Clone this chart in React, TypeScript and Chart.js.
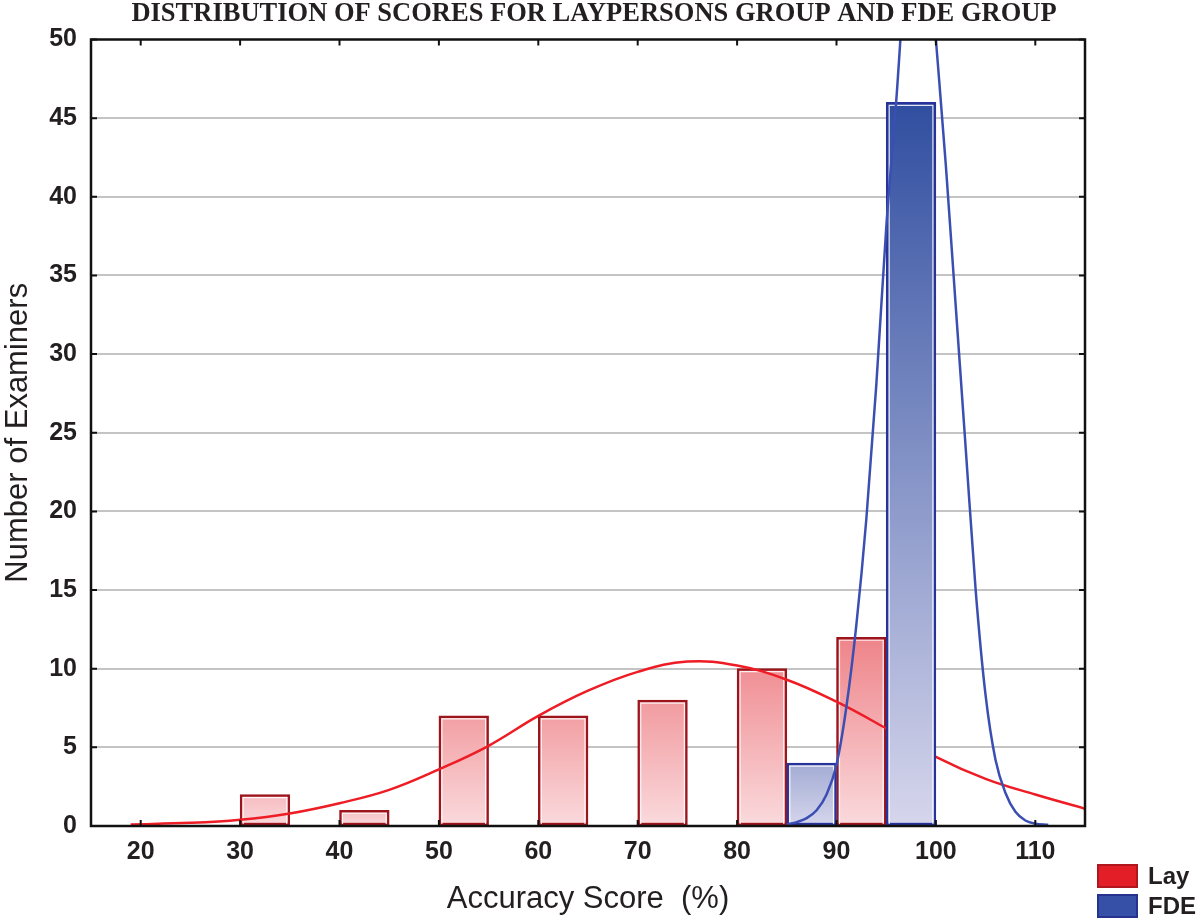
import React, { useEffect, useRef } from "react";
import { Chart, Plugin, registerables } from "chart.js";

Chart.register(...registerables);

// ---- data ----
const chartTitle = "DISTRIBUTION OF SCORES FOR LAYPERSONS GROUP AND FDE GROUP";
const xAxisTitle = "Accuracy Score  (%)";
const yAxisTitle = "Number of Examiners";
const seriesNames = ["Lay", "FDE"];

const binWidth = 5;
const layBinStarts = [30, 40, 50, 60, 70, 80, 90];
const layCounts = [2, 1, 7, 7, 8, 10, 12];
const fdeBinStarts = [85, 95];
const fdeCounts = [4, 46];

// fitted normal curves
const layCurveX = [19, 25, 30, 35, 40, 45, 50, 55, 60, 65, 70, 75, 80, 85, 90, 95, 100, 105, 110, 115];
const layCurveY = [0.1, 0.2, 0.4, 0.8, 1.45, 2.3, 3.6, 5.1, 7.0, 8.6, 9.8, 10.45, 10.2, 9.3, 7.9, 6.2, 4.4, 3.0, 2.0, 1.1];

const fdeCurveX = [85, 86, 87, 88, 89, 90, 91, 92, 93, 94, 95, 96, 97, 98, 99, 100, 101, 102, 103, 104, 105, 106, 107, 108, 109, 110, 111.3];
const fdeCurveY = [0.1, 0.25, 0.5, 1.0, 2.0, 3.9, 7.6, 12.8, 19.5, 28, 38, 46, 55, 60, 58, 50, 42, 33, 24, 15, 8.3, 4.2, 2.1, 0.9, 0.35, 0.15, 0.08];

const xTickValues = [20, 30, 40, 50, 60, 70, 80, 90, 100, 110];

// ---- styling ----
const ink = "#231f20";
const sans = "'Liberation Sans', Arial, sans-serif";
const layLight = [250, 218, 221];
const layDark = [238, 132, 137];
const fdeLight = [214, 214, 236];
const fdeDark = [48, 78, 160];

function mix(a: number[], b: number[], t: number) {
  return `rgb(${a.map((v, i) => Math.round(v + (b[i] - v) * t)).join(",")})`;
}

function barFill(light: number[], dark: number[], maxVal: number) {
  return (ctx: any) => {
    const chart = ctx.chart;
    const y = chart.scales && chart.scales.y;
    const raw = ctx.raw;
    if (!chart.chartArea || !y || !raw) return mix(light, dark, 0.5);
    const top = y.getPixelForValue(raw.y);
    const base = y.getPixelForValue(0);
    const g = chart.ctx.createLinearGradient(0, top, 0, base);
    g.addColorStop(0, mix(light, dark, 0.25 + (0.75 * raw.y) / maxVal));
    g.addColorStop(1, mix(light, dark, 0));
    return g;
  };
}

// thin white inner outline on every bar
const barHighlight: Plugin = {
  id: "barHighlight",
  afterDatasetDraw(chart, args: any) {
    const meta = args.meta;
    if (meta.type !== "bar") return;
    const c = chart.ctx;
    c.save();
    c.strokeStyle = "rgba(255,255,255,0.85)";
    c.lineWidth = 1.2;
    meta.data.forEach((el: any) => {
      const { x, y, base, width } = el.getProps(["x", "y", "base", "width"], true);
      const l = x - width / 2 + 3;
      const r = x + width / 2 - 3;
      const t = y + 3;
      const b = base - 1;
      if (b - t < 2) return;
      c.beginPath();
      c.moveTo(l, b);
      c.lineTo(l, t);
      c.lineTo(r, t);
      c.lineTo(r, b);
      c.stroke();
    });
    c.restore();
  },
};

// black box round the plot with inward tick marks on all four sides
const frame: Plugin = {
  id: "frame",
  afterDatasetsDraw(chart) {
    const { ctx: c, chartArea: a } = chart;
    const xs: any = chart.scales.x;
    const ys: any = chart.scales.y;
    const tl = 6;
    c.save();
    c.strokeStyle = "#111";
    c.lineWidth = 2;
    c.beginPath();
    xs.ticks.forEach((t: any) => {
      const px = xs.getPixelForValue(t.value);
      c.moveTo(px, a.bottom);
      c.lineTo(px, a.bottom - tl);
      c.moveTo(px, a.top);
      c.lineTo(px, a.top + tl);
    });
    ys.ticks.forEach((t: any) => {
      const py = ys.getPixelForValue(t.value);
      c.moveTo(a.left, py);
      c.lineTo(a.left + tl, py);
      c.moveTo(a.right, py);
      c.lineTo(a.right - tl, py);
    });
    c.stroke();
    c.lineWidth = 2.5;
    c.strokeRect(a.left, a.top, a.right - a.left, a.bottom - a.top);
    c.restore();
  },
};

const App: React.FC = () => {
  const canvasRef = useRef<HTMLCanvasElement | null>(null);

  useEffect(() => {
    document.body.style.margin = "0";
    if (!canvasRef.current) return;
    const ctx = canvasRef.current.getContext("2d");
    if (!ctx) return;

    const layBars = layBinStarts.map((s, i) => ({ x: s + binWidth / 2, y: layCounts[i] }));
    const fdeBars = fdeBinStarts.map((s, i) => ({ x: s + binWidth / 2, y: fdeCounts[i] }));
    const layCurve = layCurveX.map((x, i) => ({ x, y: layCurveY[i] }));
    const fdeCurve = fdeCurveX.map((x, i) => ({ x, y: fdeCurveY[i] }));

    const chart = new Chart(ctx, {
      type: "bar",
      data: {
        datasets: [
          {
            type: "bar",
            label: seriesNames[0],
            data: layBars,
            backgroundColor: barFill(layLight, layDark, Math.max(...layCounts)),
            borderColor: "#9c141c",
            borderWidth: 2.5,
            borderSkipped: false,
            grouped: false,
            barPercentage: 1,
            categoryPercentage: 1,
            order: 4,
          },
          {
            type: "line",
            label: seriesNames[0] + " curve",
            data: layCurve,
            borderColor: "#ee1c25",
            borderWidth: 2.5,
            pointRadius: 0,
            tension: 0.4,
            fill: false,
            order: 3,
          },
          {
            type: "bar",
            label: seriesNames[1],
            data: fdeBars,
            backgroundColor: barFill(fdeLight, fdeDark, Math.max(...fdeCounts)),
            borderColor: "#27339a",
            borderWidth: 2.5,
            borderSkipped: false,
            grouped: false,
            barPercentage: 1,
            categoryPercentage: 1,
            order: 2,
          },
          {
            type: "line",
            label: seriesNames[1] + " curve",
            data: fdeCurve,
            borderColor: "#3b4fb3",
            borderWidth: 2.5,
            pointRadius: 0,
            cubicInterpolationMode: "monotone",
            fill: false,
            order: 1,
          },
        ],
      } as any,
      options: {
        animation: false,
        responsive: false,
        maintainAspectRatio: false,
        layout: { padding: { left: 0, right: 12, top: 0, bottom: 0 } },
        plugins: {
          legend: { display: false },
          tooltip: { enabled: false },
          title: {
            display: true,
            text: chartTitle,
            color: ink,
            font: { family: "'Liberation Serif', 'Times New Roman', serif", size: 26.5, weight: "bold", lineHeight: 1 },
            padding: { top: 1, bottom: 12 },
          },
        },
        scales: {
          x: {
            type: "linear",
            min: 15,
            max: 115,
            bounds: "data",
            offset: false,
            afterBuildTicks: (s: any) => {
              s.ticks = xTickValues.map((v) => ({ value: v }));
            },
            afterFit: (s: any) => {
              s.height = 94;
            },
            grid: { display: false, drawTicks: false, offset: false },
            border: { display: false },
            ticks: { color: ink, font: { family: sans, size: 25, weight: "bold" }, padding: 11, maxRotation: 0, autoSkip: false },
            title: {
              display: true,
              text: xAxisTitle,
              color: ink,
              font: { family: sans, size: 31 },
              padding: { top: 0, bottom: 2 },
            },
          },
          y: {
            min: 0,
            max: 50,
            afterFit: (s: any) => {
              s.width = 91;
            },
            grid: {
              color: (c: any) => (c.tick && (c.tick.value === 0 || c.tick.value === 50) ? "rgba(0,0,0,0)" : "#c4c4c4"),
              lineWidth: 2,
              drawTicks: false,
            },
            border: { display: false },
            ticks: { stepSize: 5, color: ink, font: { family: sans, size: 25, weight: "bold" }, padding: 14 },
            title: {
              display: true,
              text: yAxisTitle,
              color: ink,
              font: { family: sans, size: 31 },
              padding: { top: 0, bottom: 0 },
            },
          },
          // empty strip on the right that holds the room for the legend
          yRight: {
            position: "right",
            min: 0,
            max: 50,
            afterFit: (s: any) => {
              s.width = 103;
            },
            grid: { display: false, drawTicks: false },
            border: { display: false },
            ticks: { display: false },
          },
        },
      } as any,
      plugins: [barHighlight, frame],
    });

    return () => {
      chart.destroy();
    };
  }, []);

  const legendColors = [
    { fill: "#e41e26", border: "#b0161e" },
    { fill: "#3550a6", border: "#25338f" },
  ];

  return (
    <div style={{ position: "relative", width: 1200, height: 920, background: "#fff" }}>
      <canvas ref={canvasRef} width={1200} height={920}></canvas>
      <div
        style={{
          position: "absolute",
          left: 1097,
          top: 861,
          fontFamily: sans,
          fontSize: 24,
          fontWeight: "bold",
          color: ink,
          lineHeight: "24px",
        }}
      >
        {seriesNames.map((name, i) => (
          <div key={name} style={{ display: "flex", alignItems: "center", height: 30 }}>
            <span
              style={{
                display: "inline-block",
                width: 37,
                height: 20,
                background: legendColors[i].fill,
                border: `2px solid ${legendColors[i].border}`,
                marginRight: 10,
              }}
            />
            <span>{name}</span>
          </div>
        ))}
      </div>
    </div>
  );
};

export default App;
